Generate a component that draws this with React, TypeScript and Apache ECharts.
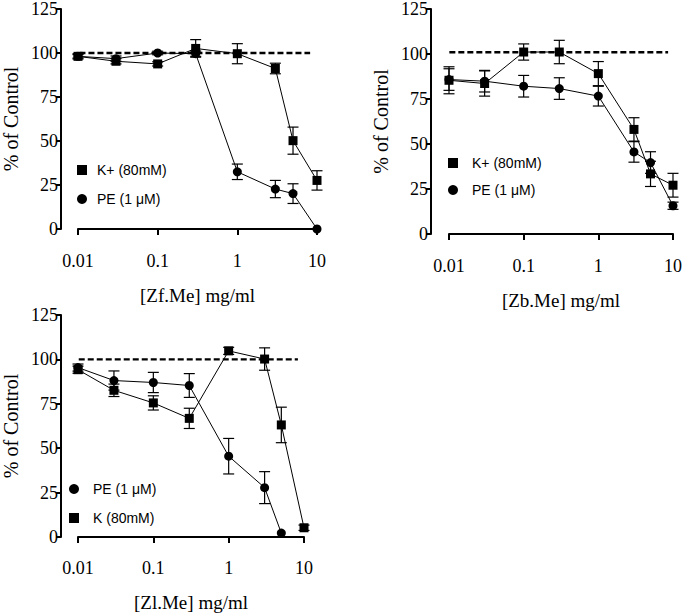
import React, { useEffect, useRef } from "react";
import * as echarts from "echarts";

const xVals = [0.01, 0.03, 0.1, 0.3, 1, 3, 5, 10];
const xValsZlPE = [0.01, 0.03, 0.1, 0.3, 1, 3, 5];

// Panel 1: [Zf.Me]
const zfK = [98.1, 95.3, 93.8, 102.6, 99.6, 91.2, 50.2, 27.6];
const zfKErr = [1.5, 1.5, 1.2, 5, 5.7, 3, 7.7, 5.5];
const zfPE = [98.1, 96.8, 100, 99.6, 32.5, 22.7, 20.1, 0];
const zfPEErr = [1, 1.5, 1, 1.5, 4.4, 4.9, 5.6, 0];

// Panel 2: [Zb.Me]
const zbK = [85.4, 83.6, 101.1, 101.1, 89.1, 58.1, 33.4, 27.1];
const zbKErr = [7.5, 7, 4.5, 6.5, 6.7, 6.5, 7, 6.6];
const zbPE = [85.8, 84.9, 82.1, 80.8, 76.6, 45.6, 39.7, 15.7];
const zbPEErr = [6, 6, 6, 6, 5.5, 5.7, 6, 2];

// Panel 3: [Zl.Me]
const zlPE = [95.4, 88.1, 87, 85.3, 45.5, 27.8, 2.2];
const zlPEErr = [2, 5.4, 5.7, 6.7, 10, 9, 0];
const zlK = [94.2, 82.6, 75.5, 66.8, 104.8, 100.2, 63.1, 5.2];
const zlKErr = [2, 3.5, 4, 5.7, 2, 6.3, 10, 1.5];

const xTitles = ["[Zf.Me] mg/ml", "[Zb.Me] mg/ml", "[Zl.Me] mg/ml"];
const yTitle = "% of Control";
const controlLevels = [100, 101, 100];
const dashStart = [0.0062, 0.0058, 0.0059];
const dashEnd = [8.2, 8.6, 8.3];

const K1 = "K+ (80mM)";
const PE = "PE (1 μM)";
const K3 = "K (80mM)";

const serif = "'Liberation Serif', 'Times New Roman', serif";
const sans = "'Liberation Sans', Arial, sans-serif";

function fmtLog(v: number) {
  return String(parseFloat(Number(v).toPrecision(6)));
}

function pairs(xs: number[], ys: number[]) {
  return xs.map((x, i) => [x, ys[i]]);
}

function errData(xs: number[], ys: number[], es: number[]) {
  const out: number[][] = [];
  xs.forEach((x, i) => {
    if (es[i] > 0) out.push([x, ys[i] - es[i], ys[i] + es[i]]);
  });
  return out;
}

function renderErr(params: any, api: any) {
  const x = api.value(0);
  const lo = api.value(1);
  const hi = api.value(2);
  const p1 = api.coord([x, hi]);
  const p2 = api.coord([x, lo]);
  const w = 5.5;
  const st = { stroke: "#000", lineWidth: 1.2 };
  return {
    type: "group",
    children: [
      { type: "line", shape: { x1: p1[0], y1: p1[1], x2: p2[0], y2: p2[1] }, style: st },
      { type: "line", shape: { x1: p1[0] - w, y1: p1[1], x2: p1[0] + w, y2: p1[1] }, style: st },
      { type: "line", shape: { x1: p2[0] - w, y1: p2[1], x2: p2[0] + w, y2: p2[1] }, style: st },
    ],
  };
}

export default function App() {
  const ref = useRef<HTMLDivElement>(null);
  useEffect(() => {
    if (!ref.current) return;
    const chart = echarts.init(ref.current, null, { renderer: "svg" });

    const grids = [
      { left: 77, top: 7, width: 240, height: 222 },
      { left: 449, top: 7, width: 226, height: 227 },
      { left: 76, top: 315, width: 228, height: 225 },
    ];
    const yOffsets = [17, 18, 17];
    const xOffsets = [17, 17, 16];

    const xAxis = grids.map((_, i) => ({
      type: "log",
      logBase: 10,
      gridIndex: i,
      min: 0.01,
      max: 10,
      offset: xOffsets[i],
      name: xTitles[i],
      nameLocation: "middle",
      nameGap: 40,
      nameTextStyle: { fontFamily: serif, fontSize: 19, color: "#000" },
      axisLine: { show: true, lineStyle: { color: "#000", width: 2 } },
      axisTick: { show: true, length: 6, lineStyle: { color: "#000", width: 2 } },
      minorTick: { show: false },
      splitLine: { show: false },
      axisLabel: {
        fontFamily: serif,
        fontSize: 18,
        color: "#000",
        margin: 6,
        formatter: (v: number) => fmtLog(v),
      },
    }));

    const yAxis = grids.map((_, i) => ({
      type: "value",
      gridIndex: i,
      min: 0,
      max: 125,
      interval: 25,
      offset: yOffsets[i],
      name: yTitle,
      nameLocation: "middle",
      nameGap: 40,
      nameRotate: 90,
      nameTextStyle: { fontFamily: serif, fontSize: 20, color: "#000" },
      axisLine: { show: true, lineStyle: { color: "#000", width: 2 } },
      axisTick: { show: true, length: 5, lineStyle: { color: "#000", width: 2 } },
      splitLine: { show: false },
      axisLabel: { fontFamily: serif, fontSize: 18, color: "#000", margin: 3 },
    }));

    const lineSeries = (name: string, i: number, data: number[][], symbol: string, size: number) => ({
      type: "line",
      name,
      xAxisIndex: i,
      yAxisIndex: i,
      data,
      symbol,
      symbolSize: size,
      showSymbol: true,
      z: 5,
      itemStyle: { color: "#000" },
      lineStyle: { color: "#000", width: 1 },
    });

    const errSeries = (i: number, data: number[][]) => ({
      type: "custom",
      xAxisIndex: i,
      yAxisIndex: i,
      data,
      encode: { x: 0, y: [1, 2] },
      renderItem: renderErr,
      z: 4,
      silent: true,
    });

    const dashSeries = (i: number) => ({
      type: "line",
      xAxisIndex: i,
      yAxisIndex: i,
      data: [
        [dashStart[i], controlLevels[i]],
        [dashEnd[i], controlLevels[i]],
      ],
      showSymbol: false,
      symbol: "none",
      clip: false,
      silent: true,
      z: 3,
      lineStyle: { color: "#000", width: 2.4, type: [6, 3] },
    });

    const series: any[] = [
      dashSeries(0),
      dashSeries(1),
      dashSeries(2),
      errSeries(0, errData(xVals, zfK, zfKErr)),
      errSeries(0, errData(xVals, zfPE, zfPEErr)),
      lineSeries(K1, 0, pairs(xVals, zfK), "rect", 9),
      lineSeries(PE, 0, pairs(xVals, zfPE), "circle", 9),
      errSeries(1, errData(xVals, zbK, zbKErr)),
      errSeries(1, errData(xVals, zbPE, zbPEErr)),
      lineSeries(K1, 1, pairs(xVals, zbK), "rect", 9),
      lineSeries(PE, 1, pairs(xVals, zbPE), "circle", 9),
      errSeries(2, errData(xValsZlPE, zlPE, zlPEErr)),
      errSeries(2, errData(xVals, zlK, zlKErr)),
      lineSeries(PE, 2, pairs(xValsZlPE, zlPE), "circle", 9),
      lineSeries(K3, 2, pairs(xVals, zlK), "rect", 9),
    ];

    const legendBase = {
      orient: "vertical",
      padding: 0,
      itemWidth: 10,
      itemHeight: 10,
      selectedMode: false,
      itemStyle: { color: "#000", borderWidth: 0 },
      textStyle: { fontFamily: sans, fontSize: 14, color: "#000" },
    };

    const legend = [
      {
        ...legendBase,
        left: 77,
        top: 163,
        itemGap: 15,
        textStyle: { ...legendBase.textStyle, padding: [0, 0, 0, 5] },
        data: [
          { name: K1, icon: "rect" },
          { name: PE, icon: "circle" },
        ],
      },
      {
        ...legendBase,
        left: 448,
        top: 156,
        itemGap: 13,
        textStyle: { ...legendBase.textStyle, padding: [0, 0, 0, 9] },
        data: [
          { name: K1, icon: "rect" },
          { name: PE, icon: "circle" },
        ],
      },
      {
        ...legendBase,
        left: 69,
        top: 482,
        itemGap: 15,
        textStyle: { ...legendBase.textStyle, padding: [0, 0, 0, 9] },
        data: [
          { name: PE, icon: "circle" },
          { name: K3, icon: "rect" },
        ],
      },
    ];

    chart.setOption({
      animation: false,
      backgroundColor: "#fff",
      textStyle: { fontFamily: serif },
      grid: grids,
      xAxis,
      yAxis,
      legend,
      series,
    });

    return () => chart.dispose();
  }, []);

  return (
    <div
      ref={ref}
      style={{ position: "absolute", left: 0, top: 0, width: 685, height: 613 }}
    />
  );
}
